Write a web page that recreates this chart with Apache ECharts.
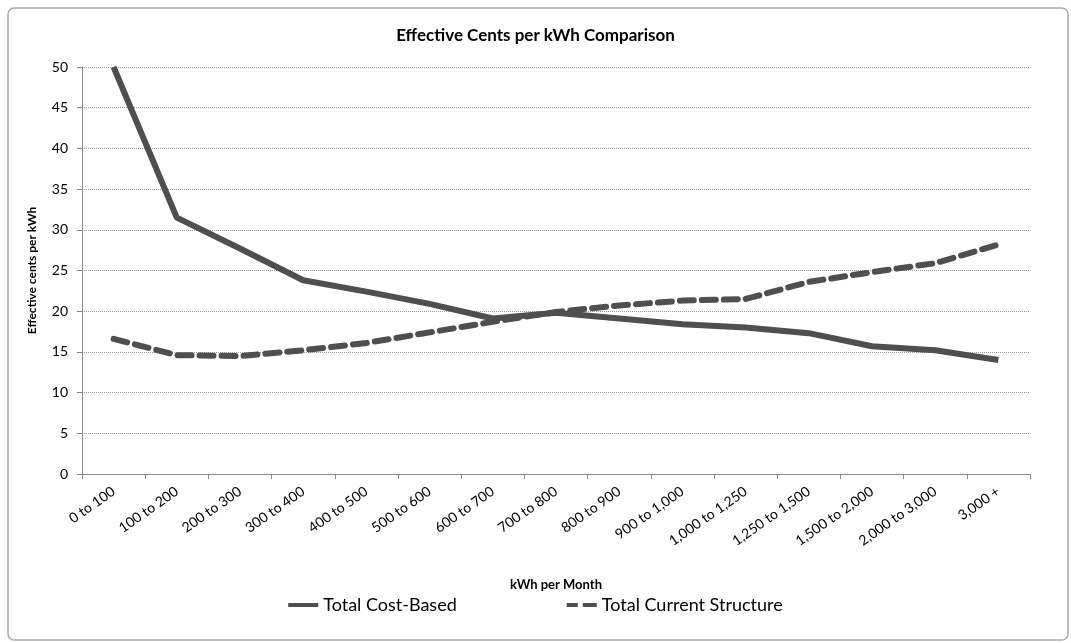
<!DOCTYPE html>
<html>
<head>
<meta charset="utf-8">
<script src="https://cdn.jsdelivr.net/npm/echarts@6/dist/echarts.min.js"></script>
<style>
  html, body { margin: 0; padding: 0; background: #fff; }
  #chart { width: 1071px; height: 643px; }
</style>
</head>
<body>
<div id="chart"></div>
<script>
const categories = ['0 to 100', '100 to 200', '200 to 300', '300 to 400', '400 to 500',
    '500 to 600', '600 to 700', '700 to 800', '800 to 900', '900 to 1,000',
    '1,000 to 1,250', '1,250 to 1,500', '1,500 to 2,000', '2,000 to 3,000', '3,000 +'];
const costBased = [50, 31.5, 27.7, 23.8, 22.4, 20.9, 19.1, 19.8, 19.1, 18.4, 18.0, 17.3, 15.7, 15.2, 14.0];
const currentStructure = [16.6, 14.6, 14.5, 15.2, 16.1, 17.4, 18.7, 19.9, 20.7, 21.3, 21.5, 23.6, 24.8, 25.9, 28.2];

const chart = echarts.init(document.getElementById('chart'));
const font = 'Lato, "Open Sans", sans-serif';

chart.setOption({
    animation: false,
    title: {
        text: 'Effective Cents per kWh Comparison',
        left: 'center',
        top: 22,
        textStyle: { fontFamily: font, fontSize: 17, fontWeight: 'bold', color: '#000' }
    },
    grid: { left: 82, right: 41, top: 67, bottom: 169 },
    legend: {
        bottom: 24,
        left: 'center',
        itemGap: 110,
        itemWidth: 30,
        itemHeight: 10,
        textStyle: { fontFamily: font, fontSize: 18, color: '#000' },
        data: [
            { name: 'Total Cost-Based', icon: 'path://M0,3L30,3L30,7L0,7Z' },
            { name: 'Total Current Structure', icon: 'path://M0,3L11,3L11,7L0,7ZM16,3L30,3L30,7L16,7Z' }
        ]
    },
    xAxis: {
        type: 'category',
        data: categories,
        name: 'kWh per Month',
        nameLocation: 'middle',
        nameGap: 104,
        nameTextStyle: { fontFamily: font, fontSize: 13, fontWeight: 'bold', color: '#000' },
        axisLine: { lineStyle: { color: '#888' } },
        axisTick: { show: true, lineStyle: { color: '#888' } },
        axisLabel: { rotate: 35, interval: 0, fontFamily: font, fontSize: 14, color: '#000', margin: 16 }
    },
    yAxis: {
        type: 'value',
        min: 0,
        max: 50,
        interval: 5,
        name: 'Effective cents per kWh',
        nameLocation: 'middle',
        nameGap: 44,
        nameTextStyle: { fontFamily: font, fontSize: 12, fontWeight: 'bold', color: '#000' },
        axisLine: { show: true, lineStyle: { color: '#888' } },
        axisTick: { show: true, lineStyle: { color: '#888' } },
        axisLabel: { fontFamily: font, fontSize: 14, color: '#000', margin: 14 },
        splitLine: { lineStyle: { color: '#999', type: 'dotted' } }
    },
    series: [
        {
            name: 'Total Cost-Based',
            type: 'line',
            data: costBased,
            symbol: 'none',
            itemStyle: { color: '#4f4f4f' },
            lineStyle: { color: '#4f4f4f', width: 6 }
        },
        {
            name: 'Total Current Structure',
            type: 'line',
            data: currentStructure,
            symbol: 'none',
            itemStyle: { color: '#4f4f4f' },
            lineStyle: { color: '#4f4f4f', width: 6, type: [14, 8], cap: 'round' }
        }
    ],
    graphic: [{
        type: 'rect',
        shape: { x: 8, y: 8, width: 1060, height: 632, r: 6 },
        style: { fill: 'none', stroke: '#aaa', lineWidth: 1.5 },
        silent: true
    }]
});
</script>
</body>
</html>
